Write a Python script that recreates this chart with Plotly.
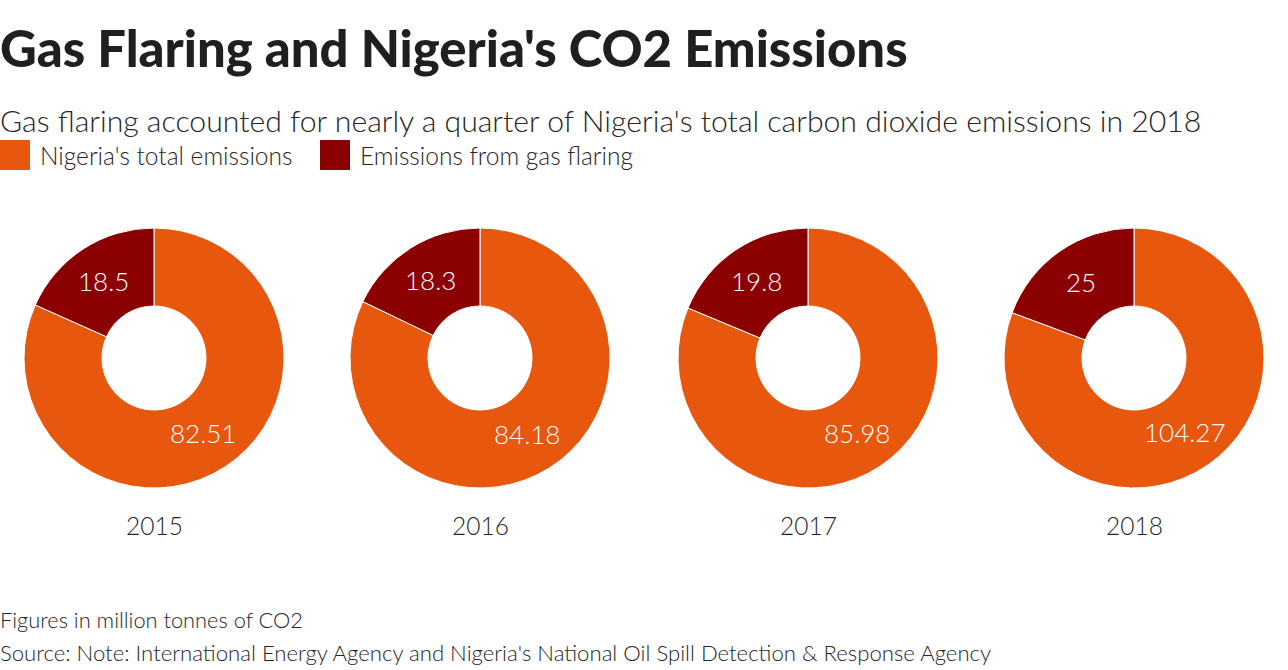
import math
import plotly.graph_objects as go

years = ["2015", "2016", "2017", "2018"]
total_emissions = [82.51, 84.18, 85.98, 104.27]
flaring_emissions = [18.5, 18.3, 19.8, 25]
flaring_labels = ["18.5", "18.3", "19.8", "25"]
total_labels = ["82.51", "84.18", "85.98", "104.27"]
series_names = ["Nigeria's total emissions", "Emissions from gas flaring"]
series_colors = ["#E8570E", "#8B0000"]
centers = [154, 480, 808, 1134]

W, H = 1288, 670
FONT = "Lato"
TEXT = "#262626"
R = 130
CY = 358
HOLE = 0.4
fig = go.Figure()


def txt(x, y, s, size, color=TEXT, weight=300, xanchor="left"):
    fig.add_annotation(x=x / W, y=1 - y / H, xref="paper", yref="paper", text=s, showarrow=False,
                       xanchor=xanchor, yanchor="middle", borderpad=0,
                       font=dict(size=size, color=color, family=FONT, weight=weight))


for i, y in enumerate(years):
    vals = [total_emissions[i], flaring_emissions[i]]
    fig.add_trace(go.Pie(
        labels=series_names,
        values=vals,
        textinfo="none",
        hole=HOLE,
        sort=False,
        direction="clockwise",
        rotation=0,
        marker=dict(colors=series_colors, line=dict(color="#FFFFFF", width=1)),
        domain=dict(x=[(centers[i] - R) / W, (centers[i] + R) / W],
                    y=[1 - (CY + R) / H, 1 - (CY - R) / H]),
        showlegend=False,
        automargin=False,
    ))
    # slice labels sit on the middle of each ring segment, derived from the values
    total = sum(vals)
    start = 0.0
    ring = R * (1 + HOLE) / 2
    for v, lab in zip(vals, [total_labels[i], flaring_labels[i]]):
        mid = (start + v / 2) / total * 2 * math.pi
        txt(centers[i] + ring * math.sin(mid) - 1, CY - ring * math.cos(mid) - 1, lab, 26,
            color="#FFFFFF", xanchor="center")
        start += v

txt(-1, 47, "Gas Flaring and Nigeria's CO2 Emissions", 50.8, color="#1F1F1F", weight=900)
txt(-1, 120, "Gas flaring accounted for nearly a quarter of Nigeria's total carbon dioxide emissions in 2018", 30.2)
txt(39, 156, series_names[0], 24.5)
txt(359, 156, series_names[1], 24.5)
for sx, c in zip([0, 320], series_colors):
    fig.add_shape(type="rect", xref="paper", yref="paper", x0=sx / W, x1=(sx + 30) / W,
                  y0=1 - 170 / H, y1=1 - 140 / H, fillcolor=c, line_width=0)
for c, y in zip(centers, years):
    txt(c, 525, y, 24.5, xanchor="center")
txt(-1, 619, "Figures in million tonnes of CO2", 21.8)
txt(-1, 652.5, "Source: Note: International Energy Agency and Nigeria's National Oil Spill Detection &amp; Response Agency", 22.15)

fig.update_layout(width=W, height=H, margin=dict(l=0, r=0, t=0, b=0),
                  paper_bgcolor="white", plot_bgcolor="white",
                  font=dict(family=FONT))
fig.write_html("out.html", config={"displayModeBar": False},
               post_script="document.body.style.margin='0';")
